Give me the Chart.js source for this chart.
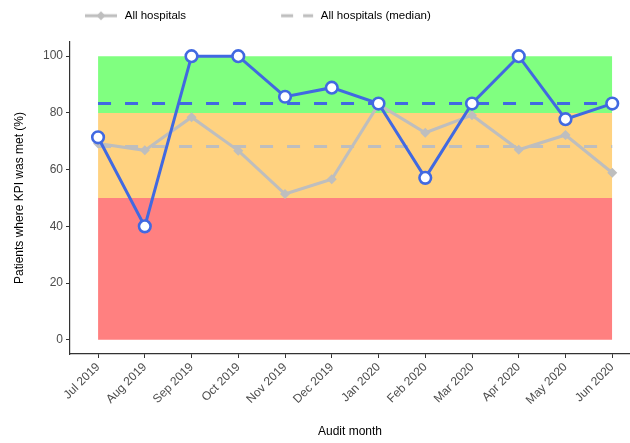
<!DOCTYPE html>
<html>
<head>
<meta charset="utf-8">
<script src="https://cdn.jsdelivr.net/npm/chart.js@4"></script>
<style>
  html, body { margin: 0; padding: 0; background: #fff; }
  #wrap { width: 630px; height: 443px; position: relative; }
</style>
</head>
<body>
<div id="wrap"><canvas id="c" width="630" height="443"></canvas></div>
<script>
// ---- data ----
const months = ['Jul 2019','Aug 2019','Sep 2019','Oct 2019','Nov 2019','Dec 2019',
                'Jan 2020','Feb 2020','Mar 2020','Apr 2020','May 2020','Jun 2020'];
const hospitalValues = [71.4, 40.0, 100, 100, 85.7, 88.9, 83.3, 57.1, 83.3, 100, 77.8, 83.3];
const allHospitalsValues = [69.2, 66.8, 78.5, 66.7, 51.4, 56.6, 83.0, 73.0, 79.2, 67.0, 72.2, 58.9];
const hospitalMedian = 83.3;
const allHospitalsMedian = 68.2;
const bandRed = 50;
const bandAmber = 80;
const bandGreen = 100;
const yTicks = [0, 20, 40, 60, 80, 100];
const legendLabels = ['All hospitals', 'All hospitals (median)'];

// ---- helpers ----
const toPts = arr => arr.map((v, i) => ({x: i, y: v}));
const spanPts = v => [{x: 0, y: v}, {x: months.length - 1, y: v}];

const GREY = '#BEBEBE';
const BLUE = '#4169E1';

function legendSymbol(dashed, width, x0, x1) {
  const c = document.createElement('canvas');
  c.width = width; c.height = 12;
  const g = c.getContext('2d');
  g.strokeStyle = GREY; g.lineWidth = 3;
  if (dashed) g.setLineDash([12, 10]);
  g.beginPath(); g.moveTo(x0, 6); g.lineTo(x1, 6); g.stroke();
  if (!dashed) {
    const cx = (x0 + x1) / 2;
    g.fillStyle = GREY;
    g.beginPath(); g.moveTo(cx - 4.5, 6); g.lineTo(cx, 1.5); g.lineTo(cx + 4.5, 6); g.lineTo(cx, 10.5); g.closePath(); g.fill();
  }
  return c;
}

const BOXW = 109;
const sym1 = legendSymbol(false, BOXW, 75, 107);
const sym2 = legendSymbol(true, BOXW, 75, 107);

const legendPlacePlugin = {
  id: 'legendPlace',
  beforeLayout(chart) {
    const lg = chart.legend;
    if (lg && !lg._patched) {
      const orig = lg.fit;
      lg.fit = function () { orig.call(this); this.height = 42; };
      lg._patched = true;
    }
  },
  afterLayout(chart) {
    const lg = chart.legend;
    if (lg) { lg.left = -10; lg.top = -10; }
  }
};

new Chart(document.getElementById('c'), {
  type: 'line',
  data: {
    datasets: [
      { label: 'Hospital', data: toPts(hospitalValues), borderColor: BLUE, borderWidth: 3,
        pointRadius: 5.8, pointBorderWidth: 2.6, pointBackgroundColor: '#fff', pointBorderColor: BLUE,
        pointHoverRadius: 5.8, fill: false, tension: 0 },
      { label: 'Hospital (median)', data: spanPts(hospitalMedian), borderColor: BLUE, borderWidth: 3,
        borderDash: [13, 14], pointRadius: 0, fill: false },
      { label: 'All hospitals (median)', data: spanPts(allHospitalsMedian), borderColor: GREY, borderWidth: 3,
        borderDash: [13, 14], pointRadius: 0, fill: false },
      { label: 'All hospitals', data: toPts(allHospitalsValues), borderColor: GREY, borderWidth: 3,
        pointStyle: 'rectRot', pointRadius: 5, pointBackgroundColor: GREY, pointBorderColor: GREY,
        pointBorderWidth: 0, fill: false, tension: 0 },
      { label: 'red', data: spanPts(bandRed), borderWidth: 0, pointRadius: 0,
        backgroundColor: '#FF8080', fill: 'origin' },
      { label: 'amber', data: spanPts(bandAmber), borderWidth: 0, pointRadius: 0,
        backgroundColor: '#FFD280', fill: '-1' },
      { label: 'green', data: spanPts(bandGreen), borderWidth: 0, pointRadius: 0,
        backgroundColor: '#80FF80', fill: '-1' }
    ]
  },
  options: {
    responsive: false,
    animation: false,
    events: [],
    layout: { autoPadding: false, padding: { left: 0, right: 0, top: 0, bottom: 0 } },
    plugins: {
      tooltip: { enabled: false },
      legend: {
        display: true,
        position: 'top',
        align: 'start',
        labels: {
          usePointStyle: true,
          pointStyleWidth: BOXW,
          padding: 20,
          color: '#000',
          font: { family: '"Liberation Sans", Arial, sans-serif', size: 11.5 },
          generateLabels: () => [
            { text: legendLabels[0], pointStyle: sym1, fillStyle: GREY, strokeStyle: GREY, lineWidth: 0, hidden: false, datasetIndex: 3 },
            { text: legendLabels[1], pointStyle: sym2, fillStyle: GREY, strokeStyle: GREY, lineWidth: 0, hidden: false, datasetIndex: 2 }
          ]
        }
      }
    },
    scales: {
      x: {
        type: 'linear',
        min: -0.6,
        max: 11.38,
        afterBuildTicks: s => { s.ticks = months.map((m, i) => ({ value: i })); },
        afterFit: s => { s.height = 89; s.paddingRight = 0; s.paddingLeft = 0; },
        grid: { display: true, drawOnChartArea: false, drawTicks: true, tickLength: 4, color: '#333', lineWidth: 1 },
        border: { display: true, color: '#333', width: 1.2 },
        ticks: {
          autoSkip: false, maxRotation: 45, minRotation: 45, padding: 2,
          color: '#4d4d4d',
          font: { family: '"Liberation Sans", Arial, sans-serif', size: 12 },
          callback: v => months[v]
        },
        title: {
          display: true, text: 'Audit month', color: '#000',
          font: { family: '"Liberation Sans", Arial, sans-serif', size: 12 },
          padding: { top: 0, bottom: 4 }
        }
      },
      y: {
        type: 'linear',
        min: -5,
        max: 105,
        afterBuildTicks: s => { s.ticks = yTicks.map(v => ({ value: v })); },
        afterFit: s => { s.width = 70; },
        grid: { display: true, drawOnChartArea: false, drawTicks: true, tickLength: 4, color: '#333', lineWidth: 1 },
        border: { display: true, color: '#333', width: 1.2 },
        ticks: {
          padding: 3, color: '#4d4d4d',
          font: { family: '"Liberation Sans", Arial, sans-serif', size: 12 }
        },
        title: {
          display: true, text: 'Patients where KPI was met (%)', color: '#000',
          font: { family: '"Liberation Sans", Arial, sans-serif', size: 12 },
          padding: { top: 12, bottom: 0 }
        }
      }
    }
  },
  plugins: [legendPlacePlugin]
});
</script>
</body>
</html>
